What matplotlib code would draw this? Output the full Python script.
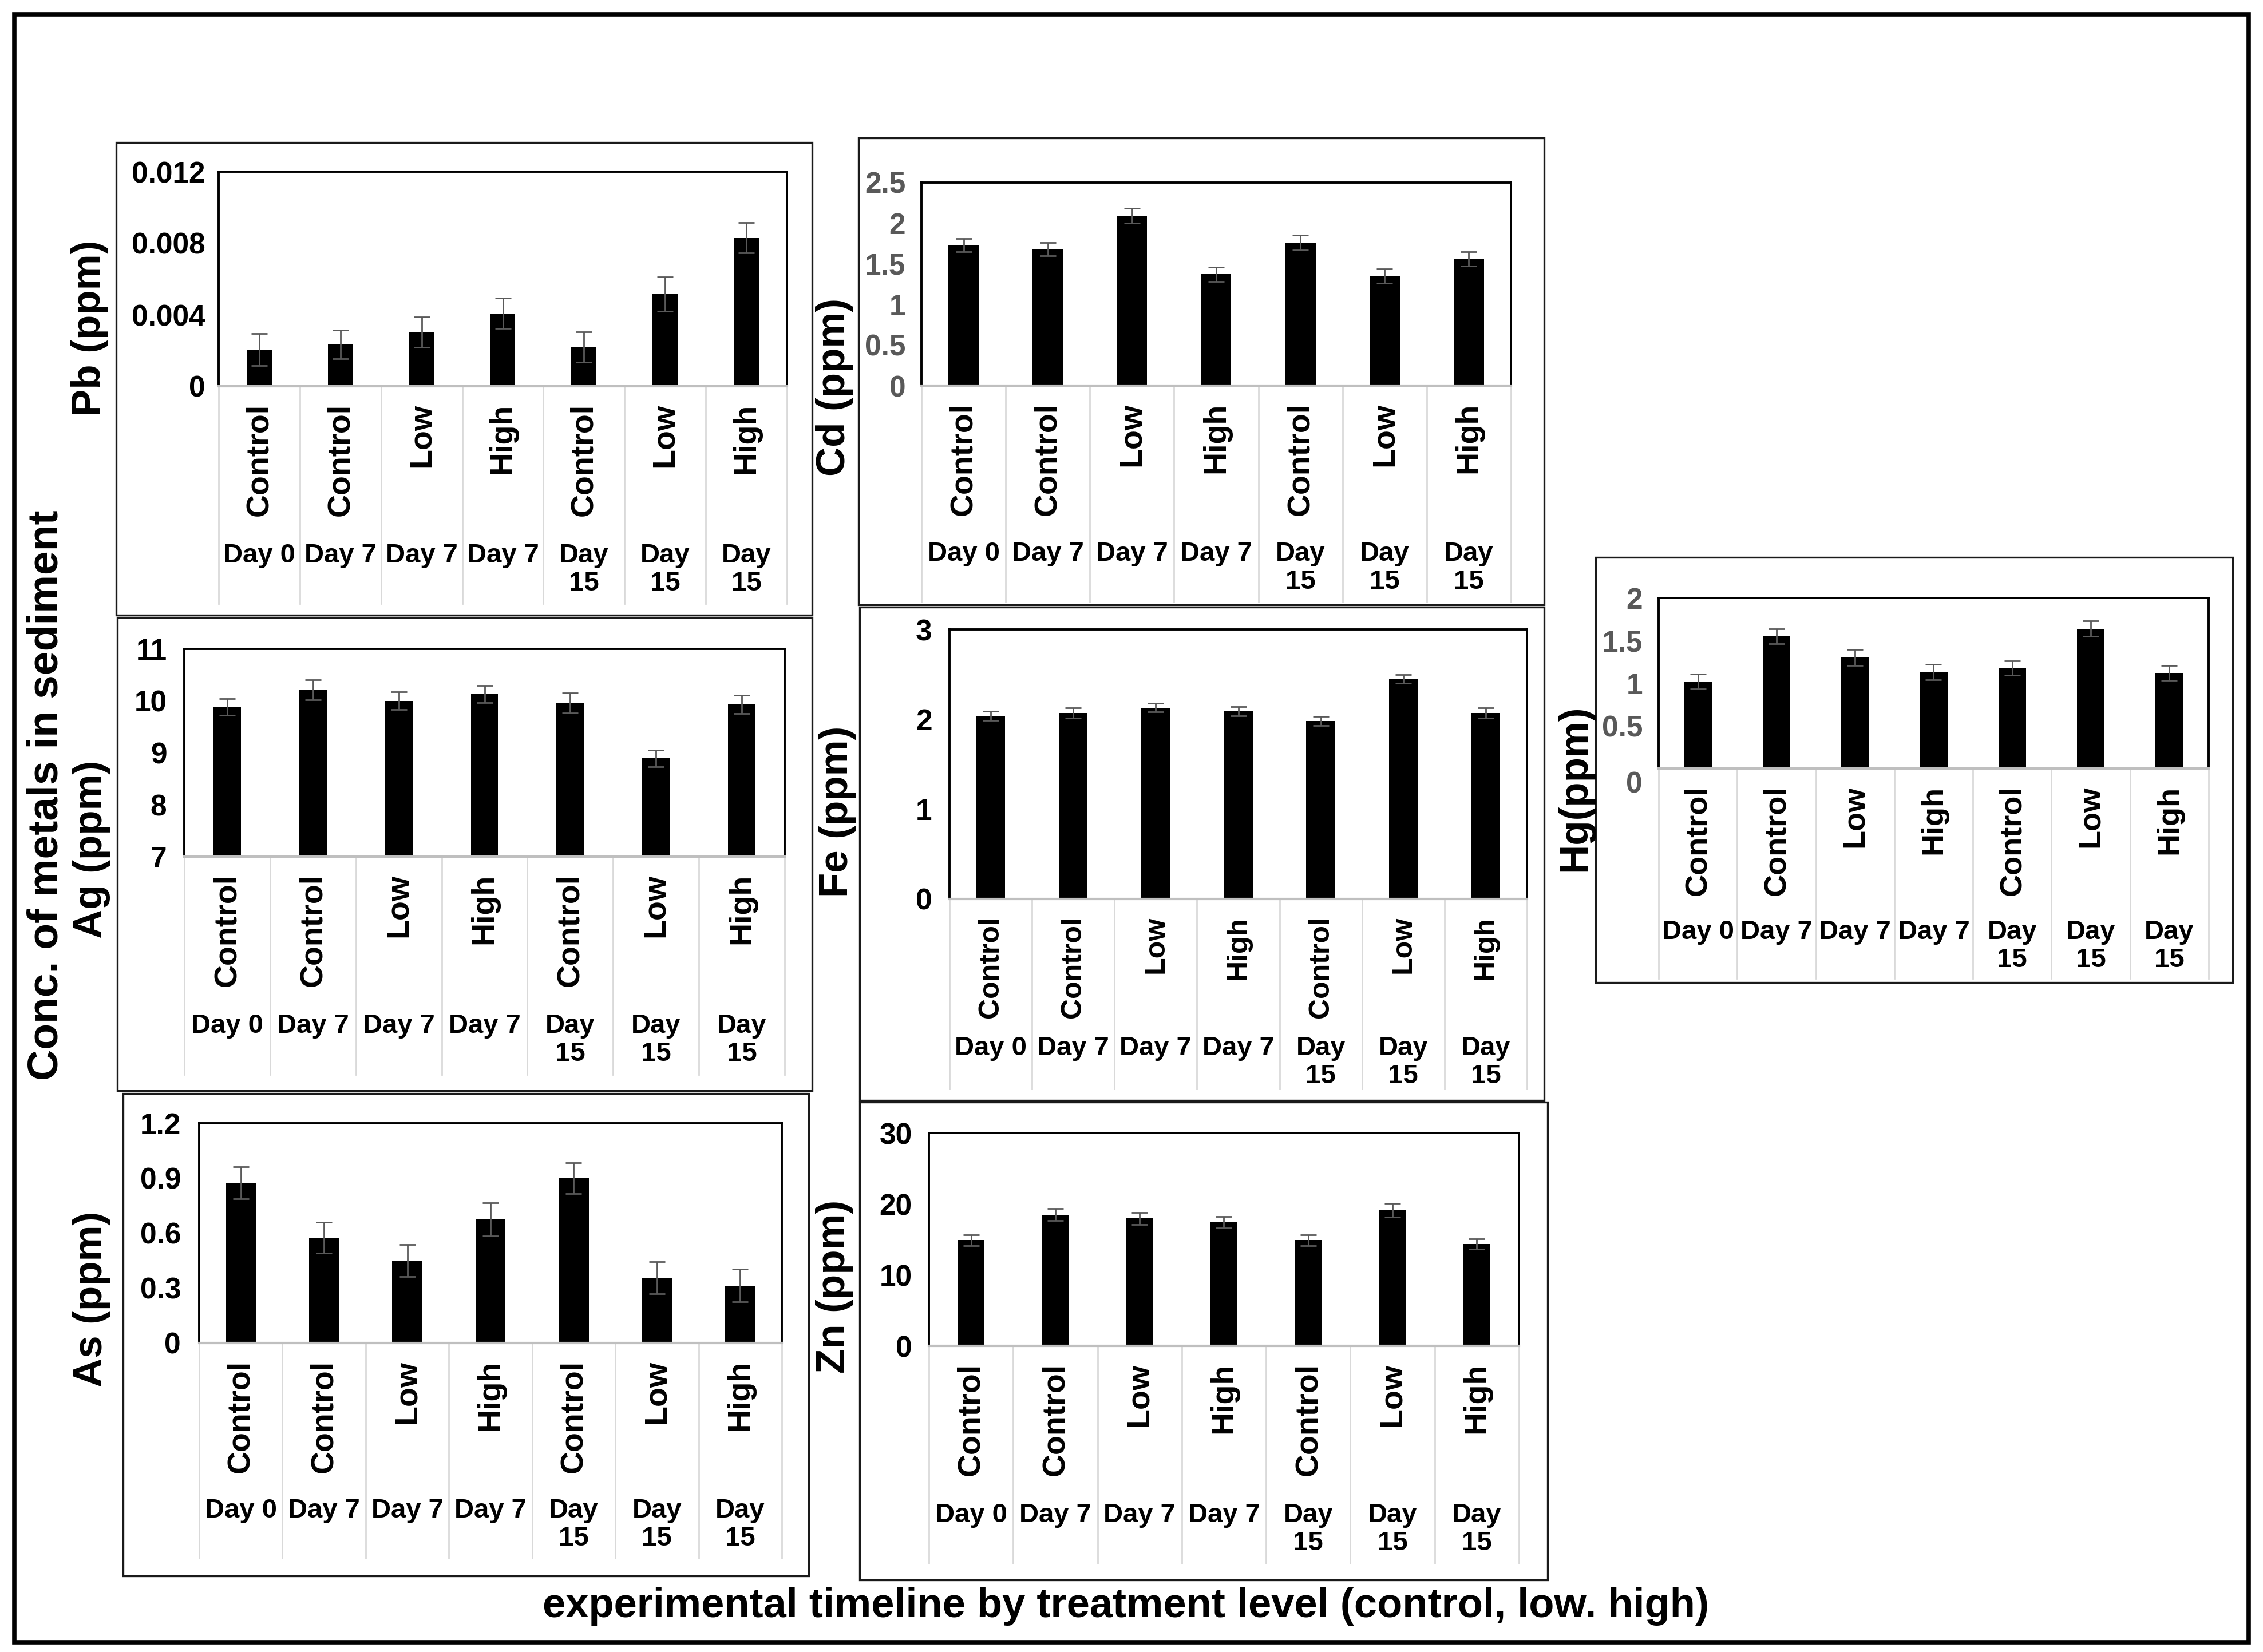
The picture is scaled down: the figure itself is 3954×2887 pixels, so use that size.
import matplotlib
matplotlib.use('Agg')
import matplotlib.pyplot as plt
import matplotlib.transforms as mtransforms
from matplotlib.patches import Rectangle

plt.rcParams['font.family'] = ['Liberation Sans', 'DejaVu Sans']
plt.rcParams['font.weight'] = 'bold'

# data
treatments = ['Control', 'Control', 'Low', 'High', 'Control', 'Low', 'High']
days = ['Day 0', 'Day 7', 'Day 7', 'Day 7', 'Day\n15', 'Day\n15', 'Day\n15']

pb = [0.00204, 0.00235, 0.00303, 0.00408, 0.00219, 0.00515, 0.0083]
pb_err = [0.0009, 0.0008, 0.00085, 0.00085, 0.00086, 0.00095, 0.00085]
cd = [1.73, 1.68, 2.09, 1.37, 1.76, 1.35, 1.56]
cd_err = [0.08, 0.08, 0.09, 0.09, 0.09, 0.09, 0.09]
hg = [1.02, 1.55, 1.30, 1.13, 1.18, 1.64, 1.12]
hg_err = [0.085, 0.09, 0.095, 0.09, 0.085, 0.09, 0.085]
ag = [9.88, 10.21, 10.0, 10.13, 9.96, 8.89, 9.93]
ag_err = [0.16, 0.19, 0.17, 0.17, 0.19, 0.16, 0.18]
fe = [2.04, 2.07, 2.13, 2.09, 1.98, 2.45, 2.07]
fe_err = [0.05, 0.055, 0.05, 0.05, 0.05, 0.05, 0.055]
as_ = [0.874, 0.575, 0.45, 0.675, 0.899, 0.356, 0.314]
as_err = [0.088, 0.085, 0.086, 0.09, 0.084, 0.087, 0.088]
zn = [14.9, 18.5, 17.96, 17.45, 14.9, 19.1, 14.35]
zn_err = [0.75, 0.85, 0.85, 0.8, 0.75, 0.95, 0.75]

pb_ticks = [0, 0.004, 0.008, 0.012]
pb_labels = ['0', '0.004', '0.008', '0.012']
cd_ticks = [0, 0.5, 1, 1.5, 2, 2.5]
cd_labels = ['0', '0.5', '1', '1.5', '2', '2.5']
hg_ticks = [0, 0.5, 1, 1.5, 2]
hg_labels = ['', '0.5', '1', '1.5', '2']
ag_ticks = [7, 8, 9, 10, 11]
ag_labels = ['7', '8', '9', '10', '11']
fe_ticks = [0, 1, 2, 3]
fe_labels = ['0', '1', '2', '3']
as_ticks = [0, 0.3, 0.6, 0.9, 1.2]
as_labels = ['0', '0.3', '0.6', '0.9', '1.2']
zn_ticks = [0, 10, 20, 30]
zn_labels = ['0', '10', '20', '30']

W, H, DPI = 3955, 2887, 100
fig = plt.figure(figsize=(W / DPI, H / DPI), dpi=DPI)
fig.patch.set_facecolor('white')

# background axes in pixel coordinates for frames and free text
bg = fig.add_axes([0, 0, 1, 1])
bg.set_xlim(0, W)
bg.set_ylim(H, 0)
bg.axis('off')

bg.add_patch(Rectangle((25, 25), 3904, 2845, fill=False, lw=5.5, ec='black'))

# panel layout: box (l,t,r,b), plot (l,t,r,b), bottom of category area, ylabel pos,
# bar width, tick pad, treatment label size
panels = [
    ('Pb (ppm)', pb, pb_err, pb_ticks, pb_labels, 'black',
     (203, 249, 1419, 1075), (382, 300, 1375, 675), 1055, (157, 573), 0.31, 17, 40),
    ('Cd (ppm)', cd, cd_err, cd_ticks, cd_labels, '#595959',
     (1500, 241, 2698, 1057), (1610, 319, 2640, 674), 1052, (1458, 676), 0.36, 20, 40),
    ('Ag (ppm)', ag, ag_err, ag_ticks, ag_labels, 'black',
     (205, 1079, 1419, 1906), (322, 1134, 1371, 1497), 1878, (160, 1484), 0.32, 22, 40),
    ('Fe (ppm)', fe, fe_err, fe_ticks, fe_labels, 'black',
     (1502, 1061, 2698, 1923), (1659, 1100, 2668, 1571), 1903, (1463, 1418), 0.35, 22, 36),
    ('Hg(ppm)', hg, hg_err, hg_ticks, hg_labels, '#595959',
     (2788, 974, 3901, 1717), (2898, 1045, 3859, 1343), 1710, (2752, 1377), 0.35, 20, 39),
    ('As (ppm)', as_, as_err, as_ticks, as_labels, 'black',
     (215, 1911, 1413, 2754), (348, 1963, 1366, 2347), 2723, (160, 2270), 0.36, 23, 40),
    ('Zn (ppm)', zn, zn_err, zn_ticks, zn_labels, 'black',
     (1502, 1926, 2704, 2761), (1623, 1980, 2654, 2352), 2732, (1458, 2248), 0.32, 21, 40),
]

x = list(range(len(treatments)))
for name, vals, errs, ticks, tlabels, tcol, box, plot, cat_b, lab, bw, pad, tsize in panels:
    bl, bt, br, bb = box
    bg.add_patch(Rectangle((bl, bt), br - bl, bb - bt, fill=False, lw=2.4, ec='#1a1a1a'))

    pl, pt, pr, pbm = plot
    ax = fig.add_axes([pl / W, 1 - pbm / H, (pr - pl) / W, (pbm - pt) / H])
    ax.bar(x, vals, width=bw, color='black', yerr=errs,
           error_kw=dict(ecolor='#5a5a5a', elinewidth=2, capsize=10, capthick=2))
    ax.set_xlim(-0.5, len(x) - 0.5)
    ax.set_ylim(ticks[0], ticks[-1])
    ax.set_yticks(ticks)
    ax.set_yticklabels(tlabels)
    ax.set_xticks([])
    ax.tick_params(axis='y', length=0, pad=pad, labelsize=37, labelcolor=tcol)
    for s in ['top', 'left', 'right']:
        ax.spines[s].set_linewidth(2.8)
        ax.spines[s].set_color('black')
    ax.spines['bottom'].set_linewidth(3)
    ax.spines['bottom'].set_color('#BFBFBF')

    # category area below the axis: separators and two-level labels
    tr = mtransforms.blended_transform_factory(ax.transData, bg.transData)
    for k in range(len(x) + 1):
        ax.plot([k - 0.5, k - 0.5], [pbm, cat_b], color='#D9D9D9', lw=2,
                transform=tr, clip_on=False)
    day_top = pbm + 0.72 * (cat_b - pbm)
    for k in x:
        ax.text(k, pbm + 30, treatments[k], rotation=90, ha='center', va='top',
                fontsize=tsize, transform=tr, clip_on=False)
        ax.text(k, day_top, days[k], ha='center', va='top', fontsize=34,
                multialignment='center', linespacing=1.15, transform=tr, clip_on=False)

    bg.text(lab[0], lab[1], name, rotation=90, ha='center', va='center', fontsize=51)

# Hg zero label sits a bit below its axis in the original
bg.text(2898 - 28, 1372, '0', ha='right', va='center', fontsize=37, color='#595959')

bg.text(81, 1390, 'Conc. of metals in sediment', rotation=90, ha='center',
        va='center', fontsize=54)
bg.text(1967, 2807, 'experimental timeline by treatment level (control, low. high)',
        ha='center', va='center', fontsize=52)

fig.savefig('out.png', dpi=DPI)
